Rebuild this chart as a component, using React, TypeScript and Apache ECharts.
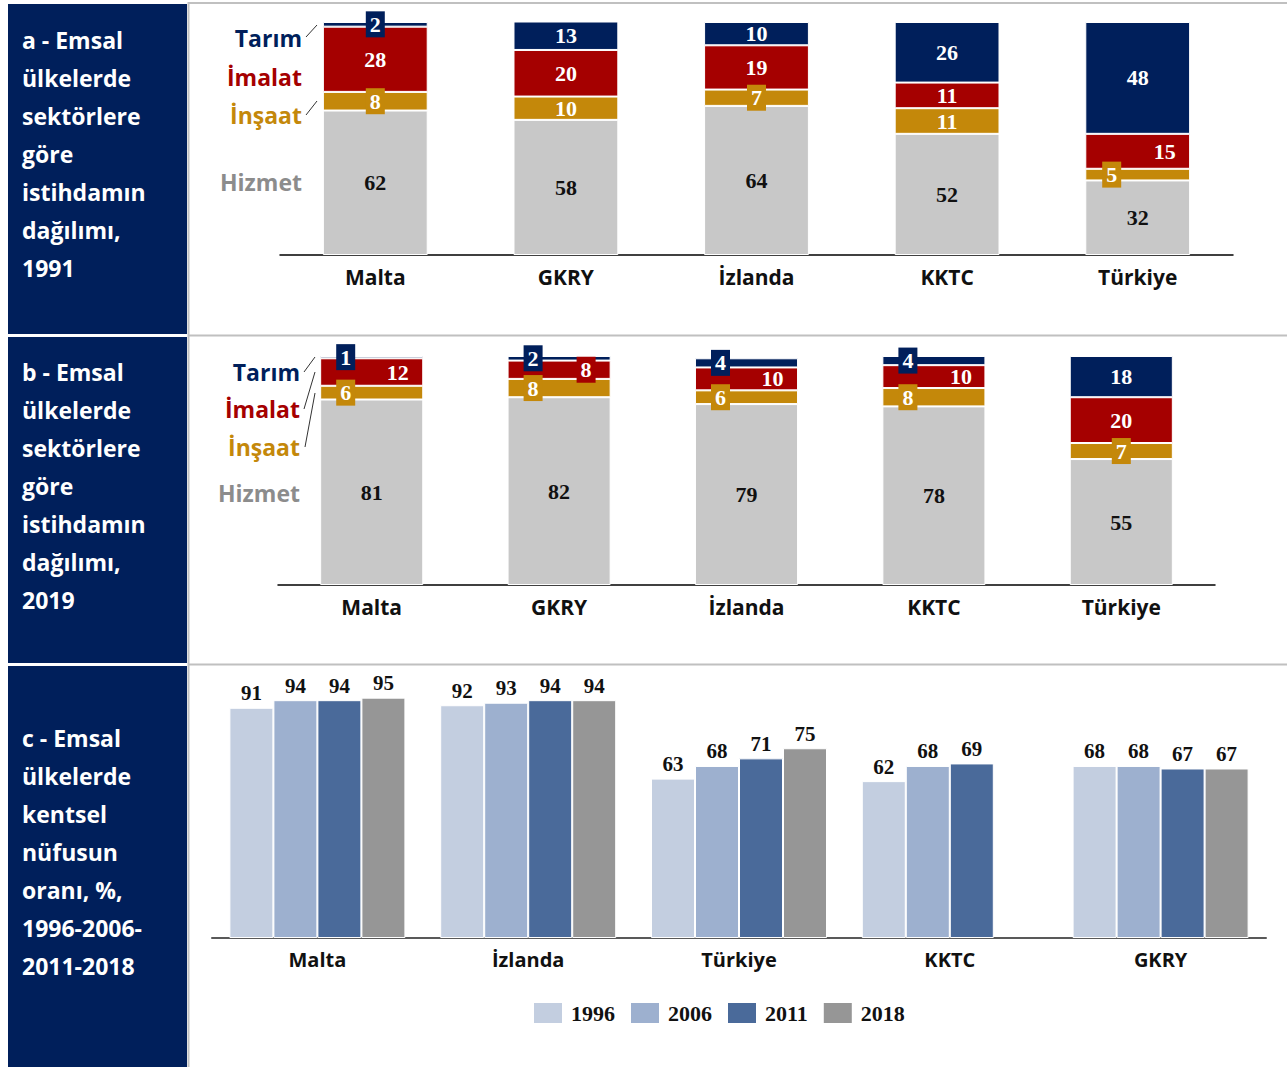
import React, { useEffect, useRef } from "react";
import * as echarts from "echarts";

// ---- Data ----
const countriesA = ["Malta", "GKRY", "İzlanda", "KKTC", "Türkiye"];
const hizmetA = [62, 58, 64, 52, 32];
const insaatA = [8, 10, 7, 11, 5];
const imalatA = [28, 20, 19, 11, 15];
const tarimA = [2, 13, 10, 26, 48];

const countriesB = ["Malta", "GKRY", "İzlanda", "KKTC", "Türkiye"];
const hizmetB = [81, 82, 79, 78, 55];
const insaatB = [6, 8, 6, 8, 7];
const imalatB = [12, 8, 10, 10, 20];
const tarimB = [1, 2, 4, 4, 18];

const countriesC = ["Malta", "İzlanda", "Türkiye", "KKTC", "GKRY"];
const years = ["1996", "2006", "2011", "2018"];
const urban1996 = [91, 92, 63, 62, 68];
const urban2006 = [94, 93, 68, 68, 68];
const urban2011 = [94, 94, 71, 69, 67];
const urban2018 = [95, 94, 75, null, 67];

const sectorNames = ["Hizmet", "İnşaat", "İmalat", "Tarım"];

// ---- Label styling (not data) ----
const boxA = { tarim: [1, 0, 0, 0, 0], imalat: [0, 0, 0, 0, 0], insaat: [1, 0, 1, 0, 1] };
const dxA = { tarim: [0, 0, 0, 0, 0], imalat: [0, 0, 0, 0, 27], insaat: [0, 0, 0, 0, -26] };
const boxB = { tarim: [1, 1, 1, 1, 0], imalat: [0, 1, 0, 0, 0], insaat: [1, 1, 1, 1, 1] };
const dxB = { tarim: [-26, -26, -26, -26, 0], imalat: [26, 27, 26, 27, 0], insaat: [-26, -26, -26, -26, 0] };

const NAVY = "#001f5b";
const RED = "#a50000";
const GOLD = "#c4880a";
const GRAY = "#c8c8c8";
const yearColors = ["#c3cee0", "#9db0cf", "#4a6a9a", "#969696"];

const SANS = '"Open Sans", "Noto Sans", sans-serif';
const NUM = '"Liberation Serif", "DejaVu Serif", serif';

function stackSeries(
  name: string,
  values: number[],
  color: string,
  idx: number,
  boxes: number[],
  dxs: number[],
  labelColor: string
) {
  return {
    type: "bar",
    name,
    stack: "S" + idx,
    xAxisIndex: idx,
    yAxisIndex: idx,
    barWidth: "55%",
    itemStyle: { color, borderColor: "#ffffff", borderWidth: 1 },
    data: values.map((v, i) => ({
      value: v,
      label: {
        show: true,
        position: "inside",
        offset: [dxs[i], 0],
        backgroundColor: boxes[i] ? color : "transparent",
        padding: boxes[i] ? [3, 4, 1, 4] : 0,
        color: labelColor,
        fontFamily: NUM,
        fontWeight: "bold",
        fontSize: 22,
      },
    })),
  };
}

function catAxis(idx: number, data: string[], lineColor: string, lineWidth: number, fontSize: number, margin: number) {
  return {
    type: "category",
    gridIndex: idx,
    data,
    axisLine: { show: true, lineStyle: { color: lineColor, width: lineWidth } },
    axisTick: { show: false },
    axisLabel: { color: "#111", fontFamily: SANS, fontWeight: "bold", fontSize, margin },
  };
}

function valAxis(idx: number) {
  return {
    type: "value",
    gridIndex: idx,
    min: 0,
    max: 100,
    show: false,
    splitLine: { show: false },
  };
}

function titleText(text: string, top: number) {
  return {
    type: "text",
    x: 22,
    y: top,
    style: {
      text,
      fill: "#ffffff",
      font: `bold 23px ${SANS}`,
      lineHeight: 38,
    },
  };
}

function legendLabel(text: string, x: number, y: number, color: string) {
  return {
    type: "text",
    x,
    y,
    style: {
      text,
      fill: color,
      font: `bold 23px ${SANS}`,
      align: "right",
      verticalAlign: "middle",
    },
  };
}

function leader(x1: number, y1: number, x2: number, y2: number) {
  return {
    type: "line",
    shape: { x1, y1, x2, y2 },
    style: { stroke: "#333", lineWidth: 1 },
  };
}

export default function App() {
  const ref = useRef<HTMLDivElement>(null);

  useEffect(() => {
    if (!ref.current) return;
    const chart = echarts.init(ref.current, undefined, { renderer: "svg" });

    const urban = [urban1996, urban2006, urban2011, urban2018];

    const option: any = {
      animation: false,
      backgroundColor: "#ffffff",
      grid: [
        { left: 280, top: 22, width: 953, height: 233 },
        { left: 278, top: 356, width: 937, height: 229 },
        { left: 212, top: 685, width: 1054, height: 253 },
      ],
      xAxis: [
        catAxis(0, countriesA, "#000", 1.5, 21, 11),
        catAxis(1, countriesB, "#000", 1.5, 21, 11),
        catAxis(2, countriesC, "#595959", 2, 20, 11),
      ],
      yAxis: [valAxis(0), valAxis(1), valAxis(2)],
      legend: {
        data: years,
        left: 532,
        top: 1001,
        itemWidth: 30,
        itemHeight: 22,
        itemGap: 14,
        padding: 0,
        icon: "rect",
        textStyle: { color: "#111", fontFamily: NUM, fontWeight: "bold", fontSize: 22, padding: [0, 0, 0, 3] },
      },
      series: [
        stackSeries(sectorNames[0], hizmetA, GRAY, 0, [0, 0, 0, 0, 0], [0, 0, 0, 0, 0], "#111"),
        stackSeries(sectorNames[1], insaatA, GOLD, 0, boxA.insaat, dxA.insaat, "#fff"),
        stackSeries(sectorNames[2], imalatA, RED, 0, boxA.imalat, dxA.imalat, "#fff"),
        stackSeries(sectorNames[3], tarimA, NAVY, 0, boxA.tarim, dxA.tarim, "#fff"),
        stackSeries(sectorNames[0], hizmetB, GRAY, 1, [0, 0, 0, 0, 0], [0, 0, 0, 0, 0], "#111"),
        stackSeries(sectorNames[1], insaatB, GOLD, 1, boxB.insaat, dxB.insaat, "#fff"),
        stackSeries(sectorNames[2], imalatB, RED, 1, boxB.imalat, dxB.imalat, "#fff"),
        stackSeries(sectorNames[3], tarimB, NAVY, 1, boxB.tarim, dxB.tarim, "#fff"),
        ...years.map((y, k) => ({
          type: "bar",
          name: y,
          xAxisIndex: 2,
          yAxisIndex: 2,
          barGap: "0%",
          barCategoryGap: "16.5%",
          itemStyle: { color: yearColors[k], borderColor: "#ffffff", borderWidth: 1 },
          label: {
            show: true,
            position: "top",
            distance: 4,
            color: "#111",
            fontFamily: NUM,
            fontWeight: "bold",
            fontSize: 21,
          },
          data: urban[k],
        })),
      ],
      graphic: [
        { type: "rect", shape: { x: 8, y: 4, width: 179, height: 330 }, style: { fill: NAVY } },
        { type: "rect", shape: { x: 8, y: 337, width: 179, height: 326 }, style: { fill: NAVY } },
        { type: "rect", shape: { x: 8, y: 666, width: 179, height: 401 }, style: { fill: NAVY } },
        { type: "line", shape: { x1: 188.5, y1: 2, x2: 188.5, y2: 1067 }, style: { stroke: "#c0c0c0", lineWidth: 2 } },
        { type: "line", shape: { x1: 188, y1: 3, x2: 1287, y2: 3 }, style: { stroke: "#c0c0c0", lineWidth: 2 } },
        { type: "line", shape: { x1: 188, y1: 335.5, x2: 1287, y2: 335.5 }, style: { stroke: "#c0c0c0", lineWidth: 2 } },
        { type: "line", shape: { x1: 188, y1: 664.5, x2: 1287, y2: 664.5 }, style: { stroke: "#c0c0c0", lineWidth: 2 } },
        titleText("a - Emsal\nülkelerde\nsektörlere\ngöre\nistihdamın\ndağılımı,\n1991", 21),
        titleText("b - Emsal\nülkelerde\nsektörlere\ngöre\nistihdamın\ndağılımı,\n2019", 353),
        titleText("c - Emsal\nülkelerde\nkentsel\nnüfusun\noranı, %,\n1996-2006-\n2011-2018", 719),
        legendLabel("Tarım", 302, 38, NAVY),
        legendLabel("İmalat", 302, 77, RED),
        legendLabel("İnşaat", 302, 115, GOLD),
        legendLabel("Hizmet", 302, 182, "#8c8c8c"),
        legendLabel("Tarım", 300, 372, NAVY),
        legendLabel("İmalat", 300, 409, RED),
        legendLabel("İnşaat", 300, 447, GOLD),
        legendLabel("Hizmet", 300, 493, "#8c8c8c"),
        leader(306, 37, 317, 25),
        leader(306, 115, 317, 101),
        leader(304, 372, 315, 357),
        leader(304, 409, 315, 372),
        leader(305, 447, 315, 393),
      ],
    };

    chart.setOption(option);
    return () => chart.dispose();
  }, []);

  return (
    <div
      ref={ref}
      style={{ position: "absolute", left: 0, top: 0, width: 1287, height: 1067, background: "#fff" }}
    />
  );
}
